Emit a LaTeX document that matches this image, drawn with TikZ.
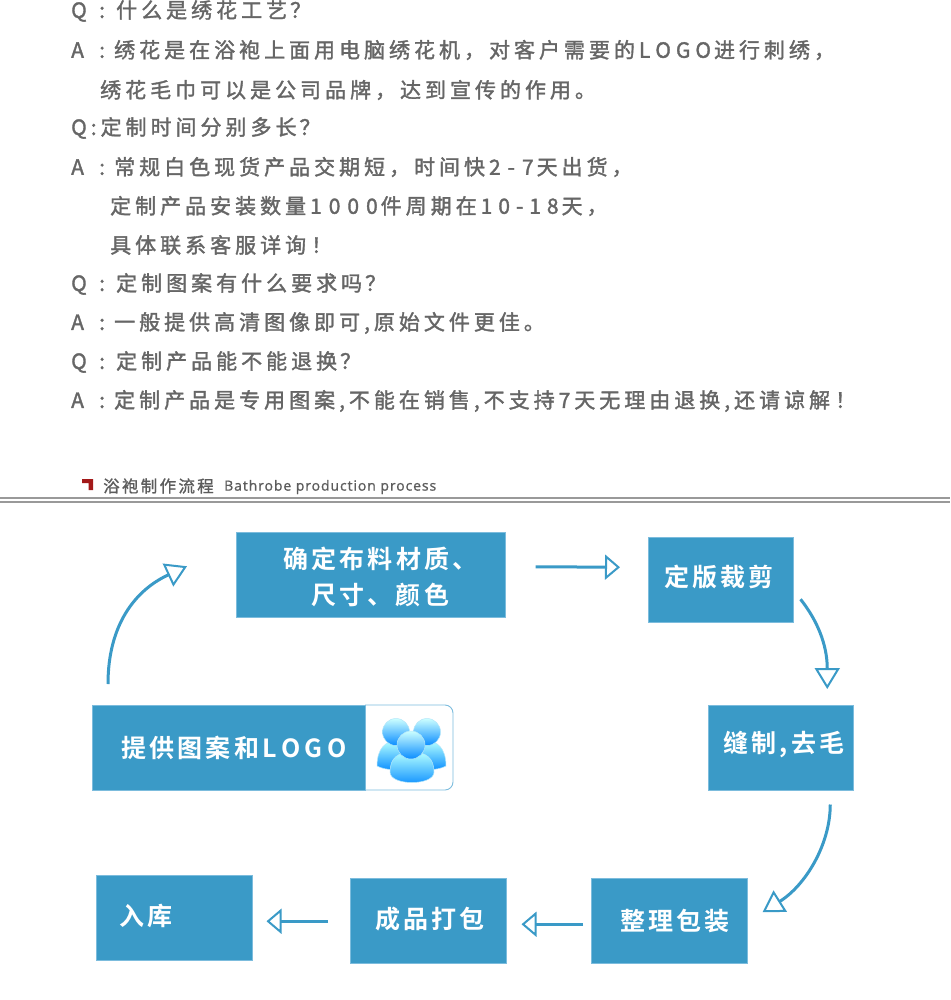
\documentclass[tikz,border=0pt]{standalone}
\usepackage{fontspec}
\usetikzlibrary{arrows.meta,calc,positioning}
\newfontfamily\qafont[LetterSpace=19,FakeBold=1.6]{Noto Sans CJK SC}
\newfontfamily\boxfont[LetterSpace=13,BoldFont={Noto Sans CJK SC Bold}]{Noto Sans CJK SC}
\newfontfamily\headfont[LetterSpace=14,FakeBold=1.2]{Noto Sans CJK SC}
\newfontfamily\engfont[LetterSpace=6.5,FakeBold=1]{Open Sans}
\definecolor{flowblue}{HTML}{3A9AC7}
\definecolor{txtgray}{HTML}{666666}
\definecolor{rulegray}{HTML}{999999}
\definecolor{edgeblue}{HTML}{7CBCDD}
\newcommand\lead[2]{\makebox[28pt][l]{#1}\makebox[#2][l]{:}}
\newcommand\gapq{\kern3pt ？}
\newcommand\gapx{\kern5pt ！}
\newcommand\dk{\kern7pt }
\tikzset{
  qa/.style={anchor=west,inner sep=0pt,text=txtgray,font=\qafont\fontsize{21}{24}\selectfont},
  box/.style={fill=flowblue,draw=edgeblue,line width=0.5pt,anchor=north west,inner sep=0pt},
  boxtext/.style={anchor=west,inner sep=0pt,text=white,font=\boxfont\bfseries\fontsize{25}{28}\selectfont},
  flowline/.style={draw=flowblue,line width=3pt},
  flow/.style={flowline,-{Triangle[open,length=15pt,width=25pt,line width=2pt,fill=white]}},
  flowcurve/.style={flowline,-{Triangle[open,length=21pt,width=25pt,line width=2pt,fill=white]}},
  person/.style={top color=#1,bottom color=#1!10!blue!50!cyan,draw=white!70!cyan,line width=0.5pt},
}
\begin{document}
\begin{tikzpicture}[x=1pt,y=-1pt]
\useasboundingbox (0,0) rectangle (950,1000);
\fill[white] (0,0) rectangle (950,1000);
% Q&A text
\node[qa] (l1) at (71,11) {\lead{Q}{17pt}什么是绣花工艺\gapq};
\node[qa] (l2) at (71,50) {\lead{A}{15pt}绣花是在浴袍上面用电脑绣花机，对客户需要的L\kern5pt O\kern5pt G\kern5pt O\kern3pt 进行刺绣，};
\node[qa] (l3) at (100,90) {绣花毛巾可以是公司品牌，达到宣传的作用。};
\node[qa] (l4) at (71,128) {Q:定制时间分别多长\gapq};
\node[qa] (l5) at (71,167) {\lead{A}{15pt}常规白色现货产品交期短，时间快2\dk-\dk 7\kern3pt 天出货，};
\node[qa] (l6) at (110,206) {定制产品安装数量1\dk 0\dk 0\dk 0\kern3pt 件周期在1\kern6pt 0\kern6pt -\kern6pt 1\kern6pt 8\kern3pt 天，};
\node[qa] (l7) at (110,245) {具体联系客服详询\gapx};
\node[qa] (l8) at (71,284) {\lead{Q}{17pt}定制图案有什么要求吗\gapq};
\node[qa] (l9) at (71,323) {\lead{A}{15pt}一般提供高清图像即可,原始文件更佳。};
\node[qa] (l10) at (71,362) {\lead{Q}{17pt}定制产品能不能退换\gapq};
\node[qa] (l11) at (71,401) {\lead{A}{15pt}定制产品是专用图案,不能在销售,不支持7天无理由退换,还请谅解\gapx};
% header
\fill[red!60!black!90!white] (82,479) -- (93,479) -- (93,490) -- (88.5,490) -- (88.5,483) -- (82,483) -- cycle;
\node[anchor=west,inner sep=0pt,text=txtgray!90!black,font=\headfont\fontsize{16.5}{20}\selectfont] (h1) at (103,486) {浴袍制作流程};
\node[anchor=west,inner sep=0pt,text=txtgray!90!black,font=\engfont\fontsize{14}{16}\selectfont] (h2) at (224,487) {Bathrobe production process};
\fill[rulegray] (0,497) rectangle (950,499);
\fill[rulegray] (0,501) rectangle (950,503);
% boxes
\node[box,minimum width=269pt,minimum height=85pt] (a) at (236,532) {};
\node[box,minimum width=145pt,minimum height=85pt] (b) at (648,537) {};
\node[box,minimum width=145pt,minimum height=85pt] (c) at (708,705) {};
\node[box,minimum width=156pt,minimum height=85pt] (d) at (591,878) {};
\node[box,minimum width=156pt,minimum height=85pt] (e) at (350,878) {};
\node[box,minimum width=156pt,minimum height=85pt] (f) at (96,875) {};
\node[box,minimum width=273pt,minimum height=85pt] (g) at (92,705) {};
\draw[edgeblue,line width=0.9pt,rounded corners=8pt] (365,705) -- (453,705) -- (453,790) -- (365,790);
% box text
\node[boxtext] (ta1) at (283,559) {确定布料材质、};
\node[boxtext] (ta2) at (311,595) {尺寸、颜色};
\node[boxtext] (tb) at (664,577) {定版裁剪};
\node[boxtext] (tc) at (723,744) {缝制,去毛};
\node[boxtext] (td) at (620,921) {整理包装};
\node[boxtext] (te) at (375,919) {成品打包};
\node[boxtext] (tf) at (119,916) {入库};
\node[boxtext] (tg) at (121,748) {提供图案和\kern3pt L\kern4.5pt O\kern4.5pt G\kern4.5pt O};
% icon
\begin{scope}
  \foreach \cx in {396,427}{
    \path[person=cyan!30!white] (\cx-19,766) .. controls (\cx-19,748) and (\cx-10,741) .. (\cx,741) .. controls (\cx+10,741) and (\cx+19,748) .. (\cx+19,766) .. controls (\cx+10,771) and (\cx-10,771) .. (\cx-19,766) -- cycle;
    \path[person=cyan!20!white] (\cx,732) circle[radius=13.5pt];
  }
  \path[person=cyan!30!white] (390,772) .. controls (390,758) and (398,752) .. (412,752) .. controls (426,752) and (434,758) .. (434,772) .. controls (434,786) and (390,786) .. (390,772) -- cycle;
  \path[person=cyan!20!white] (411,745) circle[radius=14pt];
\end{scope}
% connectors
\draw[flow] ([xshift=30pt,yshift=8pt]a.east) -- ([xshift=-28pt,yshift=12.5pt]b.west);
\draw[flowcurve] ([xshift=7pt,yshift=-19.5pt]b.east) .. controls +(16,20) and +(0,-45) .. ([xshift=46.5pt,yshift=16pt]c.north);
\draw[flowcurve] ([xshift=49.5pt,yshift=-14pt]c.south) .. controls +(0,40) and +(43,-27) .. ([xshift=15pt,yshift=8.5pt]d.east);
\draw[flow] ([xshift=-8pt,yshift=-3.5pt]d.west) -- ([xshift=15pt,yshift=-3.5pt]e.east);
\draw[flow] ([xshift=-22pt,yshift=-0.5pt]e.west) -- ([xshift=14pt,yshift=-3.5pt]f.east);
\draw[flowcurve] ([xshift=16pt,yshift=21pt]g.north west) .. controls +(0,-59) and +(-52,24) .. ([xshift=-49pt,yshift=8.5pt]a.west);
\end{tikzpicture}
\end{document}
